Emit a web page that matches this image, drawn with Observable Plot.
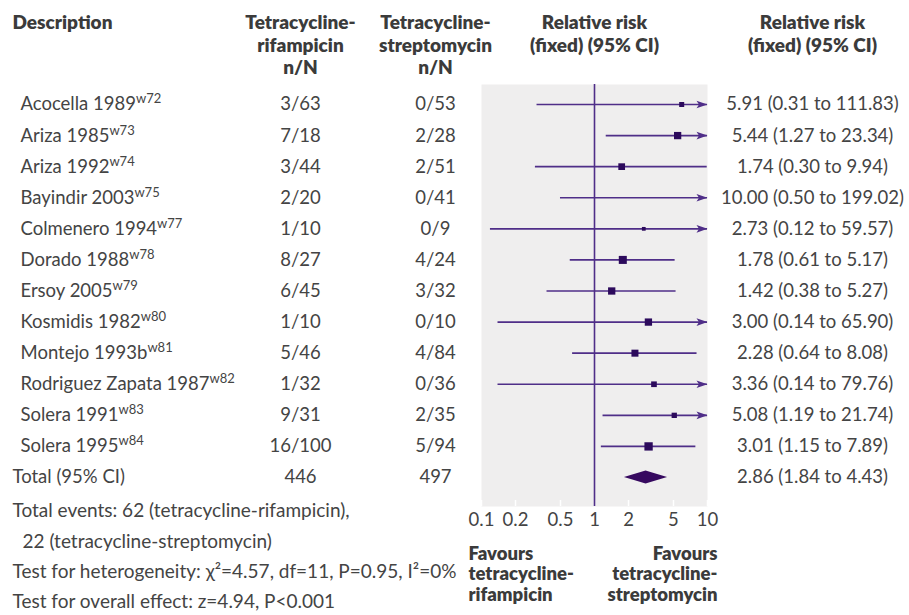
<!DOCTYPE html>
<html><head><meta charset="utf-8">
<script src="https://cdn.jsdelivr.net/npm/d3@7"></script>
<script src="https://cdn.jsdelivr.net/npm/@observablehq/plot@0.6"></script>
<style>
html,body{margin:0;padding:0;background:#fff;}
#chart svg{display:block;}
</style></head><body><div id="chart"></div>
<script>
// ---- data ----
const studyNames = ["Acocella 1989","Ariza 1985","Ariza 1992","Bayindir 2003","Colmenero 1994","Dorado 1988","Ersoy 2005","Kosmidis 1982","Montejo 1993b","Rodriguez Zapata 1987","Solera 1991","Solera 1995"];
const studyRefs = ["w72","w73","w74","w75","w77","w78","w79","w80","w81","w82","w83","w84"];
const rifEvents = [3,7,3,2,1,8,6,1,5,1,9,16];
const rifTotals = [63,18,44,20,10,27,45,10,46,32,31,100];
const strepEvents = [0,2,2,0,0,4,3,0,4,0,2,5];
const strepTotals = [53,28,51,41,9,24,32,10,84,36,35,94];
const relRisk = [5.91,5.44,1.74,10.00,2.73,1.78,1.42,3.00,2.28,3.36,5.08,3.01];
const ciLower = [0.31,1.27,0.30,0.50,0.12,0.61,0.38,0.14,0.64,0.14,1.19,1.15];
const ciUpper = [111.83,23.34,9.94,199.02,59.57,5.17,5.27,65.90,8.08,79.76,21.74,7.89];
const weights = [5.0,10.6,9.0,3.2,2.8,12.8,10.6,10.6,9.8,6.4,5.6,13.8]; // estimated study weights (%)
const totalRR = 2.86, totalLower = 1.84, totalUpper = 4.43;
const chi2 = 4.57, dfHet = 11, pHet = 0.95, i2 = 0;
const zOverall = 4.94, pOverall = "P<0.001";
const xTicks = [0.1,0.2,0.5,1,2,5,10];
const headerDesc = "Description";
const headerRif = "Tetracycline-\nrifampicin\nn/N";
const headerStrep = "Tetracycline-\nstreptomycin\nn/N";
const headerRR = "Relative risk\n(fixed) (95% CI)";
const favoursLeft = "Favours\ntetracycline-\nrifampicin";
const favoursRight = "Favours\ntetracycline-\nstreptomycin";

// ---- derived tables ----
const f2 = v => v.toFixed(2);
const rows = studyNames.map((name, i) => ({
  i, name, ref: studyRefs[i],
  rif: `${rifEvents[i]}/${rifTotals[i]}`,
  strep: `${strepEvents[i]}/${strepTotals[i]}`,
  rr: relRisk[i], lower: ciLower[i], upper: ciUpper[i], weight: weights[i],
  rrText: `${f2(relRisk[i])} (${f2(ciLower[i])} to ${f2(ciUpper[i])})`
}));
const totalRow = {
  i: studyNames.length, name: "Total (95% CI)",
  rif: String(d3.sum(rifTotals)), strep: String(d3.sum(strepTotals)),
  rrText: `${f2(totalRR)} (${f2(totalLower)} to ${f2(totalUpper)})`
};
const allRows = [...rows, totalRow];
const dH = 0.21;
const diamond = [
  {y: totalRow.i - dH, x1: totalRR, x2: totalRR},
  {y: totalRow.i, x1: totalLower, x2: totalUpper},
  {y: totalRow.i + dH, x1: totalRR, x2: totalRR}
];
const footerLines = [
  `Total events: ${d3.sum(rifEvents)} (tetracycline-rifampicin),`,
  `${d3.sum(strepEvents)} (tetracycline-streptomycin)`,
  `Test for heterogeneity: \u03C7\u00B2=${chi2}, df=${dfHet}, P=${pHet}, I\u00B2=${i2}%`,
  `Test for overall effect: z=${zOverall}, ${pOverall}`
];

// ---- style / layout ----
const FONT = "Lato, 'Open Sans', sans-serif";
const TXT = "#444444";
const HDR = "#3b3b3b";
const LINE = "#4f2e88";
const SQ = "#2c0a5c";
const DIA = "#36095f";
const PANEL = "#efeeee";
const fL = 481, fR = 707, fT = 84, fB = 506;
const W = 909, H = 615;
const BODY = 18.5;

const arrowHead = {
  draw(ctx) {
    ctx.moveTo(0, 0);
    ctx.lineTo(-11, -3.8);
    ctx.lineTo(-8.5, 0);
    ctx.lineTo(-11, 3.8);
    ctx.closePath();
  }
};

const headerOpts = {frameAnchor: "top-left", lineAnchor: "top", dy: 13 - fT, fontWeight: 800, fontSize: 19, lineHeight: 1.18, fill: HDR, text: d => d};
const footerMarks = footerLines.map((t, k) => Plot.text([t], {
  text: d => d, frameAnchor: "bottom-left", textAnchor: "start", lineAnchor: "middle",
  dx: (k === 1 ? 22 : 12) - fL, dy: [4, 35, 65, 95][k], fill: TXT, fontSize: 19
}));
const favOpts = {text: d => d, lineAnchor: "top", dy: 545 - fB, fontWeight: 800, fontSize: 18.5, lineHeight: 1.1, fill: HDR};

const plot = Plot.plot({
  width: W, height: H,
  marginTop: fT, marginBottom: H - fB, marginLeft: fL, marginRight: W - fR,
  style: {fontFamily: FONT, fontSize: "18px", color: TXT, background: "#ffffff", overflow: "visible"},
  x: {type: "log", domain: [0.1, 10], clamp: true, axis: null},
  y: {type: "linear", domain: [0, 12], range: [104, 477], axis: null},
  r: {type: "sqrt", domain: [0, 13.8], range: [0, 4.7]},
  marks: [
    Plot.frame({fill: PANEL, stroke: "none"}),
    Plot.axisX({ticks: xTicks, tickSize: 6, dy: -6, stroke: "#ffffff", strokeWidth: 1.5, tickFormat: () => ""}),
    Plot.ruleX([1], {stroke: LINE, strokeWidth: 1.6}),
    Plot.ruleY(rows, {y: "i", x1: "lower", x2: "upper", stroke: LINE, strokeWidth: 1.6}),
    Plot.dot(rows, {filter: d => d.rr < 10, x: "rr", y: "i", r: "weight", symbol: "square", fill: SQ, stroke: "none"}),
    Plot.dot(rows, {filter: d => d.upper > 10, x: "upper", y: "i", symbol: arrowHead, fill: LINE, stroke: "none"}),
    Plot.areaX(diamond, {y: "y", x1: "x1", x2: "x2", fill: DIA, curve: "linear"}),
    Plot.axisX({ticks: xTicks, tickSize: 0, tickPadding: 6, fontSize: BODY, tickFormat: d => String(d), fill: TXT}),
    // study rows
    Plot.text(rows, {y: "i", text: "name", frameAnchor: "left", textAnchor: "start", dx: 20 - fL, fill: TXT, fontSize: BODY}),
    Plot.text([totalRow], {y: "i", text: "name", frameAnchor: "left", textAnchor: "start", dx: 12 - fL, fill: TXT, fontSize: BODY}),
    Plot.text(allRows, {y: "i", text: "rif", frameAnchor: "left", textAnchor: "middle", dx: 300 - fL, fill: TXT, fontSize: BODY}),
    Plot.text(allRows, {y: "i", text: "strep", frameAnchor: "left", textAnchor: "middle", dx: 435 - fL, fill: TXT, fontSize: BODY}),
    Plot.text(allRows, {y: "i", text: "rrText", frameAnchor: "right", textAnchor: "middle", dx: 812 - fR, fill: TXT, fontSize: BODY}),
    // headers
    Plot.text([headerDesc], {...headerOpts, textAnchor: "start", dx: 12 - fL}),
    Plot.text([headerRif], {...headerOpts, textAnchor: "middle", dx: 300 - fL}),
    Plot.text([headerStrep], {...headerOpts, textAnchor: "middle", dx: 435 - fL}),
    Plot.text([headerRR], {...headerOpts, frameAnchor: "top", textAnchor: "middle", dx: 0}),
    Plot.text([headerRR], {...headerOpts, frameAnchor: "top-right", textAnchor: "middle", dx: 812 - fR}),
    // favours labels
    Plot.text([favoursLeft], {...favOpts, frameAnchor: "bottom-left", textAnchor: "start", dx: 468 - fL}),
    Plot.text([favoursRight], {...favOpts, frameAnchor: "bottom-right", textAnchor: "end", dx: 717 - fR}),
    ...footerMarks
  ]
});

// add superscript reference tags to study names
const refByName = new Map(rows.map(d => [d.name, d.ref]));
plot.querySelectorAll("text").forEach(t => {
  const name = t.textContent;
  if (refByName.has(name) && t.children.length === 0) {
    const sup = document.createElementNS("http://www.w3.org/2000/svg", "tspan");
    sup.setAttribute("font-size", "13");
    sup.setAttribute("dy", "-7");
    sup.textContent = refByName.get(name);
    t.appendChild(sup);
  }
});
document.getElementById("chart").appendChild(plot);
</script>
</body></html>
